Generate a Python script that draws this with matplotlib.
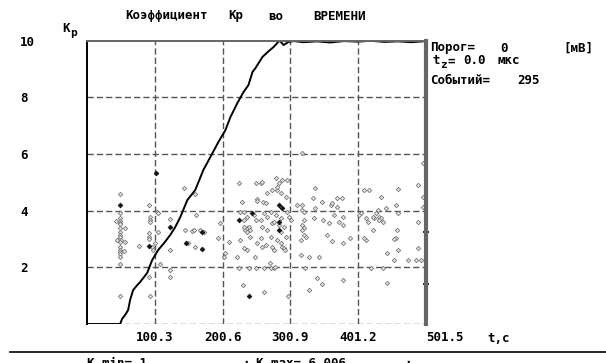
import numpy as np
import matplotlib.pyplot as plt

# Кривая Кр(t)
t_curve = [0, 49.0, 51.9, 56.4, 60.8, 63.8, 68.3, 75.7, 78.6, 89.0, 96.5, 105.3,
           114.2, 123.1, 130.6, 138.0, 148.4, 160.2, 172.1, 182.5, 194.4, 204.8,
           212.2, 222.6, 231.5, 238.9, 244.8, 249.3, 259.6, 267.1, 276.0, 284.9,
           290.8, 298.2, 305.6, 320, 340, 360, 380, 400, 420, 440, 460, 480, 497]
kp_curve = [0, 0, 0.18, 0.32, 0.49, 0.85, 1.20, 1.41, 1.48, 1.80, 2.26, 2.61,
            2.86, 3.14, 3.42, 3.77, 4.37, 4.73, 5.43, 5.89, 6.42, 6.84,
            7.30, 7.80, 8.18, 8.43, 8.89, 9.03, 9.42, 9.59, 9.77, 10.0,
            9.84, 9.95, 9.98, 9.94, 9.97, 9.93, 9.98, 9.96, 9.99, 9.95, 9.97, 9.94, 9.97]

# отдельные события
t_ev = [49, 49, 49, 49, 49, 49, 49, 49, 49, 49, 48, 50, 49, 49, 49, 49, 49, 49, 49, 49,
        43.0, 44.0, 56.4, 56.4, 55.4,
        92.0, 93.5, 93.5, 92.5, 91.0, 91.0, 92.0, 96.0, 97.4, 103.4, 104.4, 104.4,
        100.9, 93.5, 91.0, 77.6, 123.1, 122.2, 122.2, 122.2, 108.3,
        143.9, 144.4, 148.9, 155.3, 161.7, 160.2, 157.8, 167.7, 173.6, 160.2,
        193.4, 197.3, 204.8, 202.3, 209.7,
        224.5, 229.5, 226.0, 231.9, 234.4, 236.9, 232.9, 239.4, 236.9, 241.8,
        246.8, 249.3, 250.8, 251.7, 256.7, 259.2, 261.6, 260.6, 264.1, 259.2,
        264.1, 266.6, 271.5, 274.0, 276.5, 278.9, 281.4, 283.9, 286.4, 286.4,
        281.4, 286.4, 288.8, 291.3, 292.3, 296.3, 298.7, 301.2, 276.5, 270.0,
        271.5, 276.5, 277.9, 261.6, 249.3, 239.4, 224.5, 222.1, 227.0, 231.9,
        236.9, 241.8, 247.8, 256.7, 249.3, 288.8, 296.3, 286.4, 293.8, 266.6,
        274.0, 281.4, 283.9, 231.0, 261.6, 297.7,
        236.9, 256.7, 266.6, 278.9, 271.5, 291.3, 259.2, 251.7, 274.0, 293.8,
        231.9, 286.4,
        496.6, 489.1, 496.6, 496.6, 489.1, 489.1, 494.1, 474.3, 459.5, 457.0,
        458.5, 457.0, 454.5, 459.5, 443.1, 454.5, 443.6, 437.2, 434.7, 442.1,
        429.8, 427.3, 432.3, 434.7, 424.8, 422.4, 417.4, 410.0, 412.5, 410.0,
        405.1, 402.6, 422.4, 419.9, 389.2, 379.3, 379.3, 379.3, 379.3, 363.0,
        355.6, 358.1, 349.7, 348.2, 337.3, 334.8, 337.3, 335.8, 343.2, 328.4,
        317.0, 311.1, 318.5, 318.5, 321.0, 321.0, 318.5, 321.0, 318.5, 321.0,
        323.5, 316.0, 322.5, 340.8, 348.2, 328.4, 318.5, 370.4, 377.8, 360.5,
        362.0, 370.4, 365.5, 372.9,
        412.5, 415.0, 431.3, 437.2, 459.5, 486.7]
kp_ev = [4.57, 3.90, 3.75, 3.63, 3.57, 3.52, 3.37, 3.26, 3.14, 3.06, 2.96, 2.96, 2.90,
         2.73, 2.61, 2.55, 2.46, 2.38, 2.10, 1.00,
         3.63, 2.96, 3.37, 2.90, 2.59,
         4.20, 3.79, 3.67, 3.61, 3.20, 3.08, 2.99, 2.73, 2.61, 3.96, 3.90, 3.26,
         2.85, 1.00, 1.67, 2.76, 3.69, 2.61, 1.91, 1.67, 2.12,
         4.79, 3.32, 2.85, 3.28, 3.85, 2.73, 3.32, 3.32, 3.26, 4.57,
         3.02, 3.55, 2.49, 2.38, 2.90,
         4.99, 4.29, 3.96, 3.96, 3.32, 3.37, 3.43, 3.43, 3.26, 3.32,
         3.85, 4.96, 4.40, 4.34, 4.96, 5.02, 3.93, 4.32, 4.26, 2.73,
         2.79, 3.32, 3.08, 3.55, 3.61, 5.14, 4.73, 3.49, 4.14, 3.26,
         2.96, 2.85, 2.73, 2.67, 2.61, 3.96, 3.79, 3.67, 2.61, 2.14,
         1.96, 1.96, 2.02, 1.96, 1.96, 1.96, 1.96, 2.38, 2.96, 2.67,
         2.61, 3.08, 2.38, 3.02, 3.67, 5.08, 5.08, 4.61, 4.49, 4.61,
         4.73, 4.84, 4.96, 1.38, 1.14, 1.00,
         3.79, 3.67, 3.79, 3.85, 3.96, 3.43, 3.43, 2.85, 2.73, 3.06,
         3.67, 3.73,
         5.67, 4.90, 4.49, 4.14, 3.61, 2.67, 2.26, 2.26, 4.75, 4.20,
         3.32, 3.02, 2.99, 2.61, 2.52, 2.26, 1.43, 1.96, 4.49, 4.10,
         4.02, 3.90, 3.79, 3.73, 3.73, 3.32, 4.73, 4.73, 2.96, 3.02,
         3.90, 3.85, 3.79, 1.96, 3.02, 3.79, 3.49, 2.87, 1.55, 2.94,
         3.14, 3.55, 3.67, 4.32, 4.79, 4.43, 4.08, 3.73, 2.35, 2.38,
         2.43, 4.20, 4.20, 4.02, 3.96, 3.67, 3.49, 3.37, 3.32, 3.14,
         3.08, 2.96, 1.96, 1.61, 1.40, 1.20, 6.04, 4.46, 4.46, 4.20,
         4.26, 4.14, 3.85, 3.61,
         3.73, 3.61, 3.67, 3.61, 3.90, 2.26]

# совпадающие события (тёмные)
t_dup = [49.0, 92.0, 102.4, 122.2, 146.9, 170.1, 170.6, 224.5, 244.3, 283.9,
         288.8, 283.9, 283.9, 239.4]
kp_dup = [4.20, 2.75, 5.31, 3.43, 2.87, 3.26, 2.63, 3.67, 3.90, 4.20,
          4.08, 3.32, 3.61, 1.00]

x_ticks = [100.3, 200.6, 300.9, 401.2, 501.5]
y_ticks = [2, 4, 6, 8, 10]
t_max = 501.5

W, H = 606, 363
mono = 'DejaVu Sans Mono'
fs = 9


def px(x, y):
    return x / W, 1 - y / H


fig = plt.figure(figsize=(W / 100, H / 100), dpi=100)
fig.patch.set_facecolor('white')
ax = fig.add_axes([87 / W, (H - 324) / H, (426 - 87) / W, (324 - 40.5) / H])
ax.set_xlim(0, t_max)
ax.set_ylim(0, 10)

grid_kw = dict(color='#555555', lw=1.0, dashes=(4.5, 2.2))
for xv in x_ticks[:-1]:
    ax.axvline(xv, **grid_kw, zorder=1)
for yv in [0] + y_ticks[:-1]:
    ax.axhline(yv, **grid_kw, zorder=1)

ax.scatter(t_ev, kp_ev, marker='D', s=5, facecolor='#e4e4e4',
           edgecolor='#7a7a7a', linewidths=0.6, zorder=2)
ax.scatter(t_dup, kp_dup, marker='D', s=6, facecolor='#111111',
           edgecolor='#111111', linewidths=0.5, zorder=3)
ax.plot(t_curve, kp_curve, color='black', lw=1.4, zorder=4)

for side in ['left', 'top', 'right', 'bottom']:
    ax.spines[side].set_zorder(5)
ax.spines['left'].set_color('black')
ax.spines['left'].set_linewidth(1.4)
ax.spines['top'].set_color('#666666')
ax.spines['top'].set_linewidth(1.4)
ax.spines['right'].set_color('#666666')
ax.spines['right'].set_linewidth(3.0)
ax.spines['bottom'].set_visible(False)

ax.set_xticks(x_ticks)
ax.set_xticklabels([f'{v:.1f}' for v in x_ticks], fontfamily=mono,
                   fontweight='bold', fontsize=fs)
ax.xaxis.get_ticklabels()[-1].set_ha('left')
ax.tick_params(axis='x', length=0, pad=5)

ax.set_yticks(y_ticks)
ax.set_yticklabels([str(v) for v in y_ticks], fontfamily=mono,
                   fontweight='bold', fontsize=fs)
for lbl in ax.yaxis.get_ticklabels():
    lbl.set_ha('left')
ax.tick_params(axis='y', length=0, pad=48)

# короткие метки справа
sec = ax.secondary_yaxis('right')
sec.set_yticks([1.41, 3.24])
sec.set_yticklabels([])
sec.tick_params(length=4, width=1.2, direction='inout', color='black')
sec.spines['right'].set_visible(False)

txt = dict(fontfamily=mono, fontweight='bold', fontsize=fs, color='black')

# заголовок
fig.text(*px(125, 16), 'Коэффициент', va='center', **txt)
fig.text(*px(228, 16), 'Кр', va='center', **txt)
fig.text(*px(268, 16), 'во', va='center', **txt)
fig.text(*px(313, 16), 'ВРЕМЕНИ', va='center', **txt)

fig.text(*px(62, 28), 'К', va='center', **txt)
fig.text(*px(70, 33), 'р', va='center', fontfamily=mono, fontweight='bold',
         fontsize=fs - 1)

fig.text(*px(487, 338), 't,c', va='center', **txt)

# параметры справа
fig.text(*px(430, 48), 'Порог=', va='center', **txt)
fig.text(*px(500, 48), '0', va='center', **txt)
fig.text(*px(563, 48), '[мВ]', va='center', **txt)
fig.text(*px(432, 61), 't', va='center', **txt)
fig.text(*px(440, 65), 'z', va='center', fontfamily=mono, fontweight='bold',
         fontsize=fs - 1)
fig.text(*px(448, 61), '=', va='center', **txt)
fig.text(*px(463, 61), '0.0', va='center', **txt)
fig.text(*px(497, 61), 'мкс', va='center', **txt)
fig.text(*px(430, 81), 'Событий=', va='center', **txt)
fig.text(*px(517, 81), '295', va='center', **txt)

# нижняя строка
fig.add_artist(plt.Line2D([10 / W, 1], [1 - 352 / H] * 2, color='black',
                          lw=1.2, transform=fig.transFigure))
fig.text(*px(87, 357), 'K min= 1', va='top', **txt)
fig.text(*px(243, 357), ';', va='top', **txt)
fig.text(*px(256, 357), 'K max= 6.006', va='top', **txt)
fig.text(*px(405, 357), ';', va='top', **txt)

fig.savefig('out.png', dpi=100, facecolor='white')
